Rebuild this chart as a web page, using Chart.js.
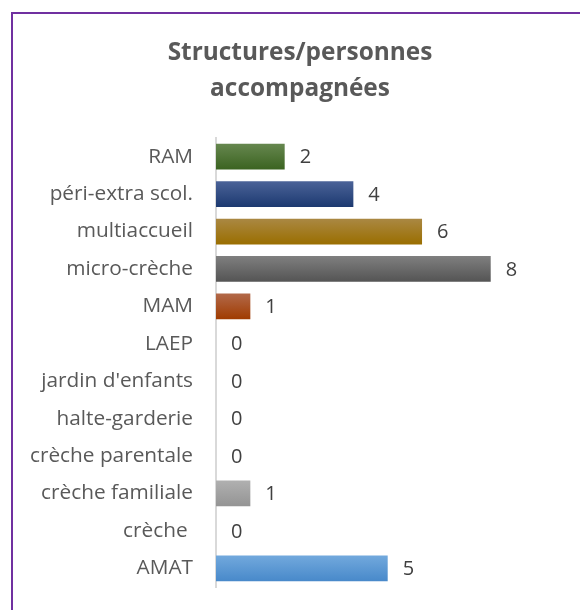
<!DOCTYPE html>
<html>
<head>
<meta charset="utf-8">
<script src="https://cdn.jsdelivr.net/npm/chart.js@4"></script>
<style>
  html, body { margin: 0; padding: 0; background: #fff; overflow: hidden; }
  #wrap { position: relative; width: 580px; height: 610px; overflow: hidden; }
  #frame { position: absolute; left: 11px; top: 12px; width: 620px; height: 640px; border: 2px solid #7030a0; box-sizing: border-box; }
  #c { position: absolute; left: 0; top: 0; }
</style>
</head>
<body>
<div id="wrap">
  <div id="frame"></div>
  <canvas id="c" width="580" height="610"></canvas>
</div>
<script>
const titleLines = ['Structures/personnes', 'accompagnées'];
const categories = ['RAM', 'péri-extra scol.', 'multiaccueil', 'micro-crèche', 'MAM', 'LAEP', "jardin d'enfants", 'halte-garderie', 'crèche parentale', 'crèche familiale', 'crèche ', 'AMAT'];
const values = [2, 4, 6, 8, 1, 0, 0, 0, 0, 1, 0, 5];
const topColors = ['#66874f', '#4b6398', '#aa8843', '#7f7f7f', '#b2694a', '#b0b0b0', '#b0b0b0', '#b0b0b0', '#b0b0b0', '#b0b0b0', '#b0b0b0', '#72a9dd'];
const bottomColors = ['#3b6320', '#1c3970', '#9a6e00', '#545454', '#a03b00', '#949494', '#949494', '#949494', '#949494', '#949494', '#949494', '#4889ca'];

const gradientPlugin = {
  id: 'grad',
  beforeDatasetsDraw(chart) {
    const ctx = chart.ctx;
    chart.getDatasetMeta(0).data.forEach((el, i) => {
      const h = el.height || 26;
      const g = ctx.createLinearGradient(0, el.y - h / 2, 0, el.y + h / 2);
      g.addColorStop(0, topColors[i]);
      g.addColorStop(1, bottomColors[i]);
      el.options.backgroundColor = g;
    });
  }
};

const valueLabels = {
  id: 'valueLabels',
  afterDatasetsDraw(chart) {
    const ctx = chart.ctx;
    ctx.save();
    ctx.font = '20px "Open Sans"';
    ctx.fillStyle = '#404040';
    ctx.textAlign = 'left';
    ctx.textBaseline = 'middle';
    chart.getDatasetMeta(0).data.forEach((el, i) => {
      ctx.fillText(String(values[i]), el.x + 15, el.y + 1);
    });
    ctx.restore();
  }
};

new Chart(document.getElementById('c'), {
  type: 'bar',
  data: {
    labels: categories,
    datasets: [{
      data: values,
      backgroundColor: bottomColors,
      borderWidth: 0,
      categoryPercentage: 1,
      barPercentage: 0.69
    }]
  },
  options: {
    indexAxis: 'y',
    responsive: false,
    animation: false,
    layout: { padding: { top: 0, bottom: 23, left: 20, right: 0 } },
    plugins: {
      legend: { display: false },
      tooltip: { enabled: false },
      title: {
        display: true,
        text: titleLines,
        color: '#595959',
        font: { family: 'Open Sans', size: 24.4, weight: 'bold', lineHeight: '36px' },
        padding: { top: 35, bottom: 31 },
        align: 'center'
      }
    },
    scales: {
      x: {
        display: false,
        min: 0,
        max: 10.6
      },
      y: {
        afterFit(scale) {
          scale.width = 196;
          scale.paddingTop = 0;
          scale.paddingBottom = 0;
        },
        grid: { display: false, drawTicks: false },
        border: { display: true, color: '#d9d9d9', width: 2 },
        ticks: {
          color: '#595959',
          padding: 23,
          font: { family: 'Open Sans', size: 20.8 }
        }
      }
    }
  },
  plugins: [gradientPlugin, valueLabels]
});
</script>
</body>
</html>
